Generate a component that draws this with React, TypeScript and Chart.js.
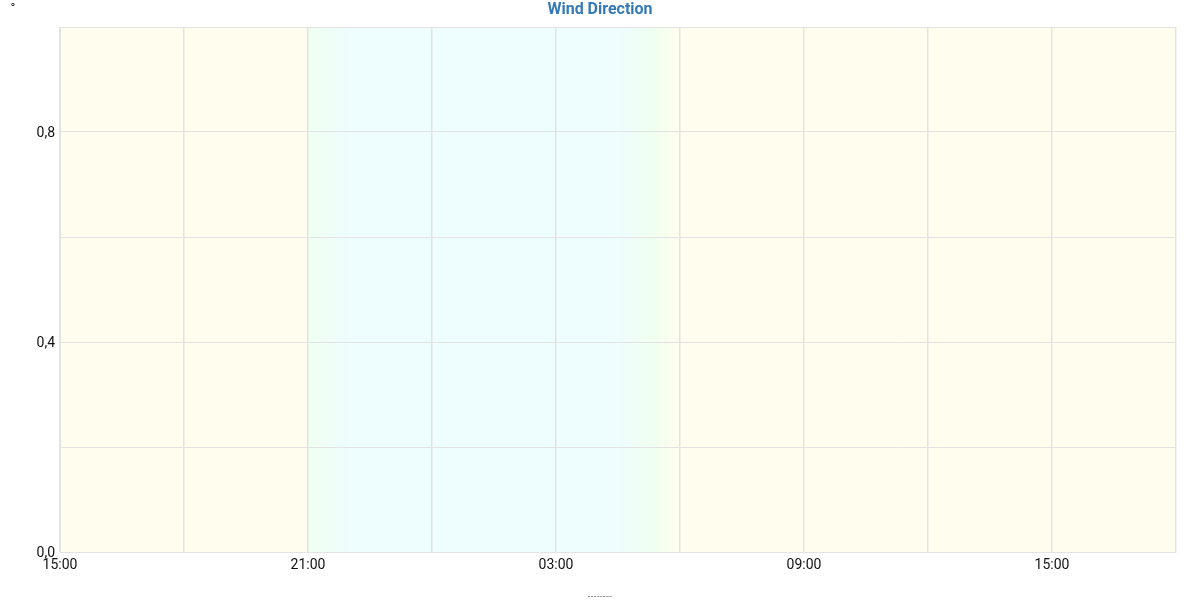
import React, { useEffect, useRef } from "react";
import { Chart, registerables } from "chart.js";

Chart.register(...registerables);

// Hours offset from 15:00 (start of the range)
const hourStart = 15;
const xMin = 0;
const xMax = 27;
const xStep = 3;
const xLabelEvery = 6;
const yMin = 0;
const yMax = 1;
const yStep = 0.2;
const yLabelTicks = [0, 0.4, 0.8];
const windDirection: { x: number; y: number }[] = [];
// day/night background: offset (hours) and color
const bgOffsets = [0, 5.99, 6.0, 7.0, 13.5, 14.3, 15.0, 27];
const bgColors = ["#fffdee", "#fffdee", "#effff0", "#eefdfd", "#eefdfd", "#effff0", "#fffdee", "#fffdee"];
const titleText = "Wind Direction";
const unitText = "°";
const footerText = "--------";

const fmtHour = (v: number) => {
  const h = (hourStart + v) % 24;
  return (h < 10 ? "0" : "") + h + ":00";
};

const bgPlugin = {
  id: "bgPlugin",
  beforeDraw(chart: any) {
    const { ctx, chartArea } = chart;
    const xs = chart.scales.x;
    const g = ctx.createLinearGradient(chartArea.left, 0, chartArea.right, 0);
    const w = chartArea.right - chartArea.left;
    bgOffsets.forEach((o, i) => {
      const p = (xs.getPixelForValue(o) - chartArea.left) / w;
      g.addColorStop(Math.min(1, Math.max(0, p)), bgColors[i]);
    });
    ctx.save();
    ctx.fillStyle = g;
    ctx.fillRect(chartArea.left, chartArea.top, w, chartArea.bottom - chartArea.top);
    ctx.restore();
  },
  afterDraw(chart: any) {
    const { ctx } = chart;
    ctx.save();
    ctx.fillStyle = "#337ab7";
    ctx.font = "bold 16px Roboto";
    ctx.textAlign = "center";
    ctx.textBaseline = "middle";
    ctx.fillText(titleText, 600, 10);
    ctx.fillStyle = "#222";
    ctx.font = "13px Roboto";
    ctx.fillText(unitText, 13, 9);
    ctx.fillStyle = "#666";
    ctx.font = "9px Roboto";
    (ctx as any).letterSpacing = "0.6px";
    ctx.fillText(footerText, 600, 597);
    ctx.restore();
  },
};

export default function App() {
  const ref = useRef<HTMLCanvasElement>(null);
  useEffect(() => {
    document.body.style.margin = "0";
    const chart = new Chart(ref.current!, {
      type: "line",
      data: {
        datasets: [
          {
            label: titleText,
            data: windDirection,
            borderColor: "#337ab7",
          },
        ],
      },
      options: {
        animation: false,
        responsive: false,
        layout: { padding: { top: 27, right: 24, left: 0, bottom: 0 } },
        plugins: { legend: { display: false }, title: { display: false }, tooltip: { enabled: false } },
        scales: {
          x: {
            type: "linear",
            min: xMin,
            max: xMax,
            ticks: {
              stepSize: xStep,
              autoSkip: false,
              maxRotation: 0,
              padding: 5,
              color: "#111",
              font: { family: "Roboto", size: 14 },
              callback: (v: any) => (Number(v) % xLabelEvery === 0 ? fmtHour(Number(v)) : ""),
            },
            grid: { color: "#e3e3e3", drawTicks: false, lineWidth: 1.5 },
            border: { color: "#e3e3e3" },
            afterFit: (s: any) => {
              s.height = 48;
            },
          },
          y: {
            min: yMin,
            max: yMax,
            ticks: {
              stepSize: yStep,
              padding: 5,
              labelOffset: 1,
              color: "#111",
              font: { family: "Roboto", size: 14 },
              callback: (v: any) =>
                yLabelTicks.some((t) => Math.abs(t - Number(v)) < 1e-6) ? Number(v).toFixed(1).replace(".", ",") : "",
            },
            grid: { color: "#e3e3e3", drawTicks: false, lineWidth: 1 },
            border: { color: "#e3e3e3" },
            afterFit: (s: any) => {
              s.width = 60;
            },
          },
        },
      },
      plugins: [bgPlugin],
    } as any);
    return () => chart.destroy();
  }, []);
  return (
    <div style={{ position: "absolute", left: 0, top: 0, width: 1200, height: 600 }}>
      <canvas ref={ref} width={1200} height={600} />
    </div>
  );
}
